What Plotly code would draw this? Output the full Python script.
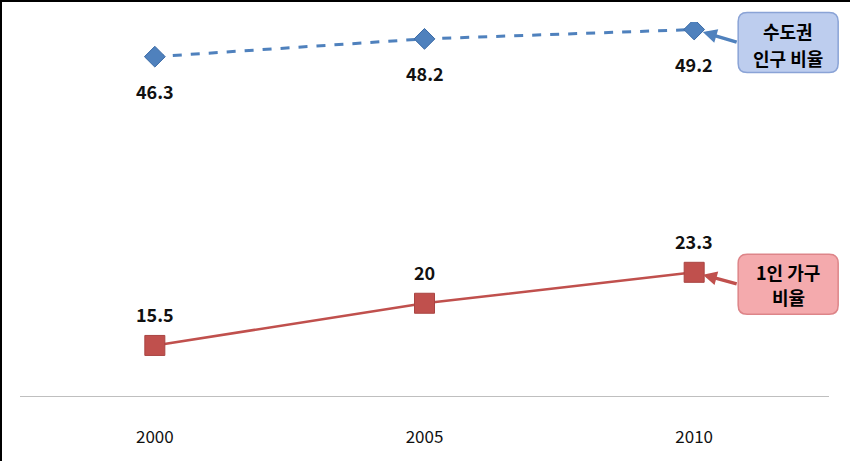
import plotly.graph_objects as go

years = ["2000", "2005", "2010"]
capital_share = [46.3, 48.2, 49.2]
single_household = [15.5, 20, 23.3]
capital_label = ["수도권", "인구 비율"]
single_label = ["1인 가구", "비율"]

BLUE = "#4f81bd"
RED = "#c0504d"
FONT = "Noto Sans CJK KR"
X_RANGE = [-0.5, 2.5]
Y_RANGE = [10, 50]

fig = go.Figure()
fig.add_trace(go.Scatter(
    x=years, y=capital_share, mode="lines+markers",
    line=dict(color=BLUE, width=3, dash="dash"),
    marker=dict(symbol="diamond", size=16, color=BLUE, line=dict(color="#3a6aa6", width=1)),
    showlegend=False, hoverinfo="skip"))
fig.add_trace(go.Scatter(
    x=years, y=single_household, mode="lines+markers",
    line=dict(color=RED, width=2.5),
    marker=dict(symbol="square", size=20, color=RED, line=dict(color="#a94442", width=1)),
    showlegend=False, hoverinfo="skip"))

ann = []
for i, v in enumerate(capital_share):
    ann.append(dict(x=i, y=v, text=f"<b>{v:g}</b>", showarrow=False, yshift=-34,
                    font=dict(family=FONT, size=18, color="#111"), xref="x", yref="y"))
for i, v in enumerate(single_household):
    ann.append(dict(x=i, y=v, text=f"<b>{v:g}</b>", showarrow=False, yshift=31,
                    font=dict(family=FONT, size=18, color="#111"), xref="x", yref="y"))


def rounded_rect(x0, y0, x1, y1, r):
    # pixel coords, y up
    return (f"M {x0 + r} {y0} L {x1 - r} {y0} Q {x1} {y0} {x1} {y0 - r} "
            f"L {x1} {y1 + r} Q {x1} {y1} {x1 - r} {y1} L {x0 + r} {y1} "
            f"Q {x0} {y1} {x0} {y1 + r} L {x0} {y0 - r} Q {x0} {y0} {x0 + r} {y0} Z")


last = len(years) - 1
px_last = (last - X_RANGE[0]) / (X_RANGE[1] - X_RANGE[0])
shapes = [
    dict(type="line", xref="paper", yref="y", x0=0, x1=1, y0=10, y1=10,
         line=dict(color="#bfbfbf", width=2)),
    dict(type="rect", xref="paper", yref="paper",
         x0=-19/809, x1=1.2, y0=-0.3, y1=(375 + 21) / 375,
         line=dict(color="#000", width=2)),
]

callouts = [
    (capital_share[-1], capital_label, BLUE, "#bdcdee", "#8aa3d6", 17, -43, 13, [-1, -28]),
    (single_household[-1], single_label, RED, "#f4aaad", "#dd8589", 18, -42, 12, [0, -25]),
]
for yv, lines, acol, fill, bcol, top, bottom, ay, shifts in callouts:
    py = (yv - Y_RANGE[0]) / (Y_RANGE[1] - Y_RANGE[0])
    shapes.append(dict(type="path", xref="paper", yref="paper",
                       xsizemode="pixel", ysizemode="pixel",
                       xanchor=px_last, yanchor=py,
                       path=rounded_rect(44, top, 144, bottom, 9),
                       fillcolor=fill, line=dict(color=bcol, width=1.5), layer="above"))
    ann.append(dict(x=last, y=yv, xref="x", yref="y", text="", showarrow=True,
                    ax=44, ay=ay, arrowhead=2, arrowsize=0.8, arrowwidth=3.5,
                    arrowcolor=acol, standoff=9))
    for line, s in zip(lines, shifts):
        ann.append(dict(x=last, y=yv, xref="x", yref="y", text=f"<b>{line}</b>",
                        showarrow=False, xshift=94, yshift=s,
                        font=dict(family=FONT, size=18, color="#000")))

fig.update_layout(
    width=850, height=461,
    margin=dict(l=20, r=21, t=22, b=64),
    paper_bgcolor="white", plot_bgcolor="white",
    annotations=ann,
    xaxis=dict(type="category", range=X_RANGE, showgrid=False, zeroline=False,
               showline=False, ticks="", tickfont=dict(family=FONT, size=17, color="#111"),
               ticklabelstandoff=28),
    yaxis=dict(range=Y_RANGE, visible=False),
    shapes=shapes,
)

fig.write_html("out.html")
